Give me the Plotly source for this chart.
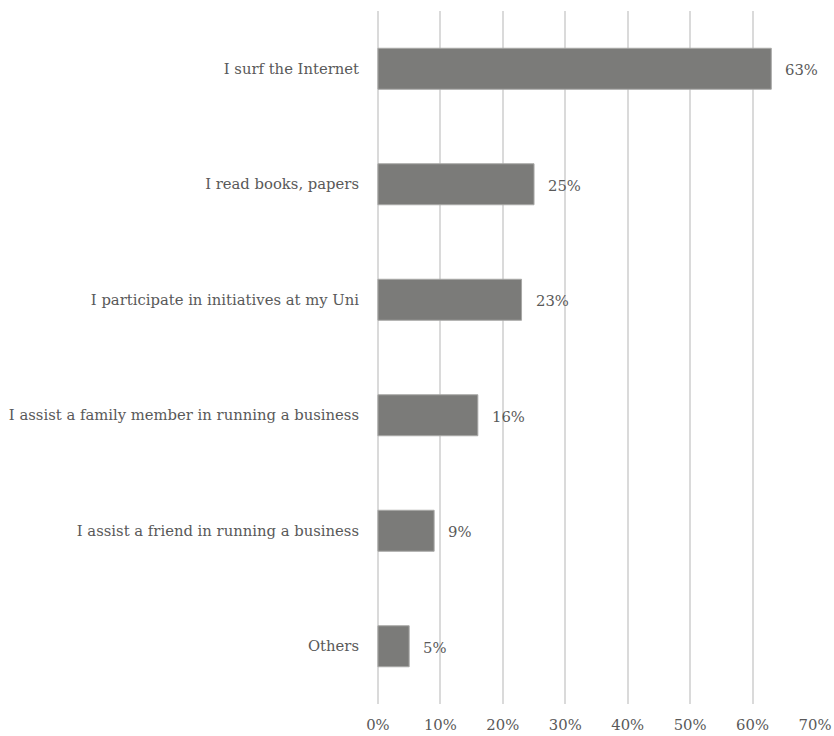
import plotly.graph_objects as go

# Activities, listed top to bottom
categories = [
    "I surf the Internet",
    "I read books, papers",
    "I participate in initiatives at my Uni",
    "I assist a family member in running a business",
    "I assist a friend in running a business",
    "Others",
]
shares = [63, 25, 23, 16, 9, 5]  # percent of respondents
tick_values = [0, 10, 20, 30, 40, 50, 60, 70]
tick_labels = [f"{v}%" for v in tick_values]

FONT = "DejaVu Serif"
SIZE = 14.8
TEXT = "#595959"
GRID = "#dadada"

fig = go.Figure(
    go.Bar(
        x=shares,
        y=categories,
        orientation="h",
        marker=dict(color="#7b7b79", line=dict(color="#a8a8a6", width=1)),
        width=0.355,
        hoverinfo="skip",
    )
)

# Value labels just right of each bar
for cat, val in zip(categories, shares):
    fig.add_annotation(
        x=val, y=cat, text=f"{val}%", showarrow=False,
        xanchor="left", xshift=12, yshift=-1,
        font=dict(family=FONT, size=SIZE, color=TEXT),
    )

fig.update_layout(
    width=834, height=736,
    margin=dict(l=377, r=18.5, t=10.7, b=31.5, autoexpand=False),
    paper_bgcolor="white", plot_bgcolor="white",
    showlegend=False,
    font=dict(family=FONT, size=SIZE, color=TEXT),
)
fig.update_xaxes(
    range=[-0.15, 70], tickvals=tick_values, ticktext=tick_labels,
    showgrid=True, gridcolor=GRID, gridwidth=1.5,
    zeroline=True, zerolinecolor=GRID, zerolinewidth=1.5,
    showline=False, ticks="", automargin=False,
    tickfont=dict(family=FONT, size=SIZE, color=TEXT),
    ticklabelstandoff=10,
)
fig.update_yaxes(
    categoryorder="array", categoryarray=categories[::-1],
    showgrid=False, zeroline=False, showline=False, ticks="", automargin=False,
    tickfont=dict(family=FONT, size=SIZE, color=TEXT),
    ticklabelstandoff=17,
)

fig.write_html("out.html")
